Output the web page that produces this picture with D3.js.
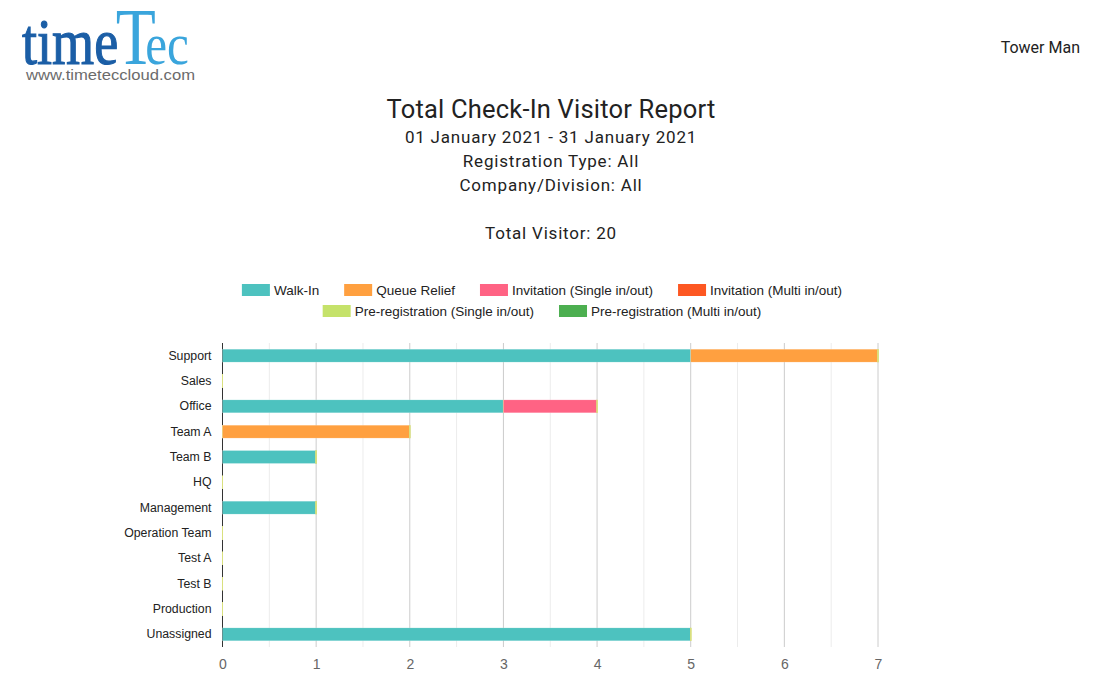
<!DOCTYPE html>
<html>
<head>
<meta charset="utf-8">
<script src="https://cdnjs.cloudflare.com/ajax/libs/d3/7.8.5/d3.min.js"></script>
<style>
  body { margin: 0; background: #fff; }
  svg { display: block; }
</style>
</head>
<body>
<div id="chart"></div>
<script>
// chart data
var categories = ["Support", "Sales", "Office", "Team A", "Team B", "HQ", "Management",
    "Operation Team", "Test A", "Test B", "Production", "Unassigned"];
var seriesNames = ["Walk-In", "Queue Relief", "Invitation (Single in/out)", "Invitation (Multi in/out)",
    "Pre-registration (Single in/out)", "Pre-registration (Multi in/out)"];
var walkIn = [5, 0, 3, 0, 1, 0, 1, 0, 0, 0, 0, 5];
var queueRelief = [2, 0, 0, 2, 0, 0, 0, 0, 0, 0, 0, 0];
var invitationSingle = [0, 0, 1, 0, 0, 0, 0, 0, 0, 0, 0, 0];
var invitationMulti = [0, 0, 0, 0, 0, 0, 0, 0, 0, 0, 0, 0];
var preRegSingle = [0, 0, 0, 0, 0, 0, 0, 0, 0, 0, 0, 0];
var preRegMulti = [0, 0, 0, 0, 0, 0, 0, 0, 0, 0, 0, 0];
var xTicks = [0, 1, 2, 3, 4, 5, 6, 7];
var colors = ["#4dc2bf", "#ffa040", "#ff6384", "#fd5722", "#c5e26a", "#4caf50"];

var W = 1120, H = 694;
var svg = d3.select("#chart").append("svg")
    .attr("width", W)
    .attr("height", H);

// logo, squeezed horizontally
var logo = svg.append("text")
    .attr("transform", "translate(22,64) scale(0.82,1)")
    .attr("font-family", "Liberation Serif");
logo.append("tspan")
    .attr("font-size", 66)
    .attr("fill", "#1b5ea6")
    .attr("stroke", "#1b5ea6")
    .attr("stroke-width", 1.2)
    .text("time");
logo.append("tspan")
    .attr("font-size", 80)
    .attr("fill", "#3aa5dc")
    .attr("dx", -3)
    .text("T");
logo.append("tspan")
    .attr("font-size", 60)
    .attr("fill", "#3aa5dc")
    .attr("dx", -13)
    .text("ec");
svg.append("text")
    .attr("x", 26).attr("y", 80)
    .attr("font-family", "Liberation Sans, Arial")
    .attr("font-size", 15)
    .attr("fill", "#6b6b6b")
    .attr("textLength", 169)
    .attr("lengthAdjust", "spacingAndGlyphs")
    .text("www.timeteccloud.com");

svg.append("text")
    .attr("x", 1080).attr("y", 53)
    .attr("text-anchor", "end")
    .attr("font-family", "Roboto")
    .attr("font-size", 16)
    .attr("fill", "#222")
    .text("Tower Man");

// heading block
var cx = 551;
var heading = [
    { t: "Total Check-In Visitor Report", y: 118, s: 25.5, ls: 0.2 },
    { t: "01 January 2021 - 31 January 2021", y: 143, s: 17, ls: 0.8 },
    { t: "Registration Type: All", y: 167, s: 17, ls: 0.8 },
    { t: "Company/Division: All", y: 191, s: 17, ls: 0.8 },
    { t: "Total Visitor: 20", y: 239, s: 17, ls: 0.8 }
];
svg.selectAll("text.head")
    .data(heading)
    .enter()
    .append("text")
    .attr("class", "head")
    .attr("x", cx)
    .attr("y", function (d) { return d.y; })
    .attr("text-anchor", "middle")
    .attr("font-family", "Roboto")
    .attr("font-size", function (d) { return d.s; })
    .attr("letter-spacing", function (d) { return d.ls; })
    .attr("fill", "#222")
    .text(function (d) { return d.t; });

// legend
var legendRows = [[0, 1, 2, 3], [4, 5]];
var legendY = [290, 311];
legendRows.forEach(function (row, ri) {
    var g = svg.append("g");
    var x = 0;
    row.forEach(function (si, k) {
        var item = g.append("g").attr("transform", "translate(" + x + ",0)");
        item.append("rect")
            .attr("x", 0).attr("y", -6)
            .attr("width", 28).attr("height", 12)
            .attr("fill", colors[si]);
        var t = item.append("text")
            .attr("x", 32).attr("y", 4.5)
            .attr("font-family", "Liberation Sans, Arial")
            .attr("font-size", 13.5)
            .attr("fill", "#222")
            .text(seriesNames[si]);
        x += 32 + t.node().getComputedTextLength() + (k < row.length - 1 ? 25 : 0);
    });
    g.attr("transform", "translate(" + (542 - x / 2) + "," + legendY[ri] + ")");
});

// plot
var margin = { left: 222.5, right: 878, top: 343, bottom: 647 };
var x = d3.scaleLinear().domain([0, 7]).range([margin.left, margin.right]);
var y = d3.scaleBand().domain(categories).range([margin.top, margin.bottom]).paddingInner(0.49).paddingOuter(0.245);

var minor = d3.range(0.5, 7, 1);
svg.append("g").selectAll("line")
    .data(minor)
    .enter()
    .append("line")
    .attr("x1", function (d) { return x(d); })
    .attr("x2", function (d) { return x(d); })
    .attr("y1", margin.top).attr("y2", margin.bottom)
    .attr("stroke", "#ececec");
svg.append("g").selectAll("line")
    .data(xTicks.slice(1))
    .enter()
    .append("line")
    .attr("x1", function (d) { return x(d); })
    .attr("x2", function (d) { return x(d); })
    .attr("y1", margin.top).attr("y2", margin.bottom)
    .attr("stroke", "#cccccc");

// vertical axis line (bars drawn over it)
svg.append("line")
    .attr("x1", x(0)).attr("x2", x(0))
    .attr("y1", margin.top).attr("y2", margin.bottom)
    .attr("stroke", "#333");

// stacked bars
var seriesData = [walkIn, queueRelief, invitationSingle, invitationMulti, preRegSingle, preRegMulti];
var rows = categories.map(function (c, i) {
    var o = { cat: c };
    seriesNames.forEach(function (s, j) { o[s] = seriesData[j][i]; });
    return o;
});
var stack = d3.stack().keys(seriesNames)(rows);

svg.append("g").selectAll("g")
    .data(stack)
    .enter()
    .append("g")
    .attr("fill", function (d, i) { return colors[i]; })
    .selectAll("rect")
    .data(function (d) { return d; })
    .enter()
    .append("rect")
    .attr("x", function (d) { return d[1] - d[0] > 0 ? x(d[0]) : x(d[0]) - 0.5; })
    .attr("y", function (d) { return y(d.data.cat); })
    .attr("height", y.bandwidth())
    .attr("width", function (d) { return Math.max(x(d[1]) - x(d[0]), 1); })
    // zero-valued segments show as a pale hairline, as in the source chart
    .attr("fill", function (d) { return d[1] - d[0] > 0 ? null : "#d9e07e"; })
    .attr("stroke", function (d) { return d[1] - d[0] > 0 ? "rgba(255,255,255,0.35)" : "none"; })
    .attr("stroke-width", 0.5);

// category labels
var yAxis = svg.append("g")
    .attr("transform", "translate(" + (x(0) - 11) + ",0)")
    .call(d3.axisLeft(y).tickSize(0).tickPadding(0));
yAxis.select(".domain").remove();
yAxis.selectAll("text")
    .attr("font-family", "Liberation Sans, Arial")
    .attr("font-size", 12.3)
    .attr("fill", "#222");

// x tick labels
var xAxis = svg.append("g")
    .attr("transform", "translate(0," + margin.bottom + ")")
    .call(d3.axisBottom(x).tickValues(xTicks).tickSize(0).tickPadding(12).tickFormat(d3.format("d")));
xAxis.select(".domain").remove();
xAxis.selectAll("text")
    .attr("font-family", "Liberation Sans, Arial")
    .attr("font-size", 14)
    .attr("fill", "#666");
</script>
</body>
</html>
